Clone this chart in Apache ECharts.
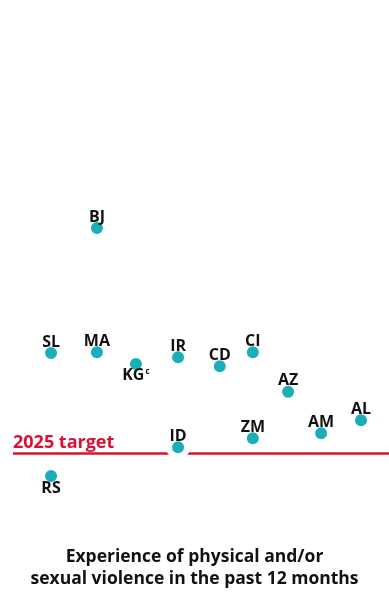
<!DOCTYPE html>
<html>
<head>
<meta charset="utf-8">
<script src="https://cdn.jsdelivr.net/npm/echarts@6/dist/echarts.min.js"></script>
<style>
  html, body { margin: 0; padding: 0; background: #fff; }
  #chart { width: 389px; height: 592px; }
</style>
</head>
<body>
<div id="chart"></div>
<script>
// Country codes, horizontal slot (swarm position) and share of respondents (%)
const countries = ['BJ', 'SL', 'MA', 'KG', 'IR', 'CD', 'CI', 'AZ', 'ZM', 'AM', 'AL', 'ID', 'RS'];
const slots     = [1.83, 0.83, 1.83, 2.68, 3.6, 4.51, 5.23, 6.0, 5.23, 6.72, 7.59, 3.6, 0.83];
const values    = [60, 32.2, 32.4, 29.8, 31.3, 29.3, 32.4, 23.6, 13.3, 14.4, 17.3, 11.3, 4.9];
const belowLabels = ['KG', 'RS'];
const footnotes = { KG: 'c' };
const target = 10;
const targetLabel = '2025 target';
const titleText = 'Experience of physical and/or\nsexual violence in the past 12 months';

const TEAL = '#1aaeb9';
const RED = '#dc0f35';
const FONT = '"Open Sans"';

const points = countries.map((c, i) => ({
  value: [slots[i], values[i]],
  name: c,
  label: {
    position: belowLabels.includes(c) ? 'bottom' : 'top',
    distance: belowLabels.includes(c) ? -8 : -9
  }
}));

const chart = echarts.init(document.getElementById('chart'), null, { renderer: 'canvas' });
chart.setOption({
  animation: false,
  backgroundColor: '#fff',
  graphic: [{
    type: 'text',
    left: 'center',
    top: 546,
    style: {
      text: titleText,
      textAlign: 'center',
      fontFamily: FONT,
      fontWeight: 'bold',
      fontSize: 17.5,
      lineHeight: 22,
      fill: '#111'
    }
  }],
  grid: { left: 13, right: 0, top: 48, bottom: 94 },
  xAxis: { type: 'value', min: 0, max: 8.2, show: false },
  yAxis: { type: 'value', min: 0, max: 100, show: false },
  series: [
    {
      type: 'scatter',
      data: [],
      z: 1,
      markLine: {
        z: 1,
        silent: true,
        symbol: 'none',
        lineStyle: { color: RED, width: 2.5, type: 'solid' },
        label: {
          show: true,
          position: 'insideStartTop',
          formatter: targetLabel,
          color: RED,
          fontFamily: FONT,
          fontWeight: 'bold',
          fontSize: 18,
          distance: [0, 1]
        },
        data: [{ yAxis: target }]
      }
    },
    {
      type: 'scatter',
      z: 3,
      symbolSize: 18,
      itemStyle: { color: TEAL, borderColor: '#fff', borderWidth: 6, opacity: 1 },
      data: points,
      label: {
        show: true,
        formatter: p => footnotes[p.name] ? p.name + '{sup|' + footnotes[p.name] + '}' : p.name,
        color: '#111',
        fontFamily: FONT,
        fontWeight: 'bold',
        fontSize: 16,
        rich: {
          sup: { fontFamily: FONT, fontWeight: 'bold', fontSize: 8, color: '#111', verticalAlign: 'top', padding: [0, 0, 7, 1] }
        }
      }
    }
  ]
});
</script>
</body>
</html>
